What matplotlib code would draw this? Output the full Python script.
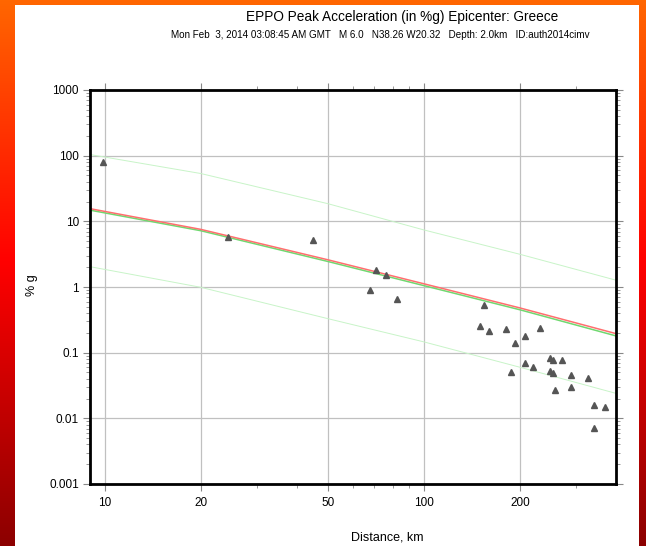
import numpy as np
import matplotlib
matplotlib.use('Agg')
import matplotlib.pyplot as plt
from matplotlib.colors import LinearSegmentedColormap
from matplotlib.patches import Rectangle
from matplotlib.ticker import LogLocator, FixedLocator, FixedFormatter, NullFormatter

plt.rcParams['font.family'] = ['Liberation Sans', 'DejaVu Sans']

# Estaciones: distancia (km) y aceleracion pico (%g)
dist_km = [9.86, 24.4, 45, 70.8, 76.4, 68, 82.6, 154, 150, 160, 180.7, 207, 193.4,
           232, 208, 219.7, 188, 249, 254.7, 270.5, 249, 254.7, 289, 326, 289, 257,
           342, 369.5, 341]
pga = [80, 5.8, 5.2, 1.79, 1.55, 0.906, 0.66, 0.54, 0.258, 0.214, 0.232, 0.18, 0.139,
       0.238, 0.0687, 0.0605, 0.05, 0.0819, 0.078, 0.076, 0.052, 0.0483, 0.0456, 0.041,
       0.0303, 0.027, 0.0159, 0.0148, 0.0072]

# Curvas de atenuacion
curva_dist = [9, 20, 50, 100, 200, 400]
curva_roja = [15.6, 7.55, 2.6, 1.12, 0.48, 0.195]
curva_verde = [14.8, 7.2, 2.45, 1.05, 0.45, 0.18]
curva_sup = [104, 53.5, 18.6, 7.4, 3.15, 1.27]
curva_inf = [2.04, 0.99, 0.33, 0.146, 0.06, 0.024]

xticks = [10, 20, 50, 100, 200]
yticks = [0.001, 0.01, 0.1, 1, 10, 100, 1000]
ytick_labels = ['0.001', '0.01', '0.1', '1', '10', '100', '1000']

fig = plt.figure(figsize=(6.46, 5.46), dpi=100)

# Fondo degradado
bg = fig.add_axes([0, 0, 1, 1], zorder=-10)
cmap = LinearSegmentedColormap.from_list(
    'fondo', [(0, '#ff6600'), (0.48, '#ff0000'), (1, '#8c0000')])
grad = np.linspace(0, 1, 256).reshape(-1, 1)
bg.imshow(grad, aspect='auto', cmap=cmap, extent=[0, 1, 0, 1])
bg.set_axis_off()
fig.patches.append(Rectangle((15 / 646, 0), 624 / 646, 541 / 546,
                             transform=fig.transFigure, facecolor='white',
                             edgecolor='none', zorder=-5))

ax = fig.add_axes([90 / 646, 1 - 484 / 546, 526 / 646, 394 / 546])
ax.set_xscale('log')
ax.set_yscale('log')
ax.set_xlim(9, 400)
ax.set_ylim(0.001, 1000)

ax.plot(curva_dist, curva_sup, color='#c8f4c8', lw=0.7)
ax.plot(curva_dist, curva_inf, color='#c8f4c8', lw=0.7)
ax.plot(curva_dist, curva_verde, color='#70d870', lw=1.1)
ax.plot(curva_dist, curva_roja, color='#ff6f6f', lw=1.1)
ax.plot(dist_km, pga, linestyle='none', marker='^', markersize=4,
        color='#555555', zorder=5)

ax.xaxis.set_major_locator(FixedLocator(xticks))
ax.xaxis.set_major_formatter(FixedFormatter([str(t) for t in xticks]))
ax.xaxis.set_minor_locator(FixedLocator([30, 40, 60, 70, 80, 90, 300]))
ax.xaxis.set_minor_formatter(NullFormatter())
ax.yaxis.set_major_locator(FixedLocator(yticks))
ax.yaxis.set_major_formatter(FixedFormatter(ytick_labels))
ax.yaxis.set_minor_locator(LogLocator(base=10, subs=np.arange(2, 10), numticks=20))
ax.yaxis.set_minor_formatter(NullFormatter())

ax.grid(True, which='major', color='#c0c0c0', lw=0.9)
ax.tick_params(which='both', direction='out', top=True, right=True,
               labelsize=8.5, color='#888888')
ax.tick_params(which='major', length=5, width=0.8)
ax.tick_params(axis='x', which='major', pad=4)
ax.tick_params(axis='y', which='major', pad=3)
ax.tick_params(which='minor', length=3, width=0.6)
for s in ax.spines.values():
    s.set_linewidth(2)

ax.set_xlabel('Distance, km', fontsize=9)
ax.set_ylabel('% g', fontsize=9)
ax.xaxis.set_label_coords((387 - 90) / 526, (484 - 537) / 394)
ax.yaxis.set_label_coords((32 - 90) / 526, (484 - 285) / 394)
ax.xaxis.label.set_va('center')
ax.yaxis.label.set_va('center')

fig.text(402 / 646, 1 - 17 / 546, 'EPPO Peak Acceleration (in %g) Epicenter: Greece',
         ha='center', va='center', fontsize=9.8)
fig.text(380 / 646, 1 - 35 / 546,
         'Mon Feb  3, 2014 03:08:45 AM GMT   M 6.0   N38.26 W20.32   Depth: 2.0km   ID:auth2014cimv',
         ha='center', va='center', fontsize=7.1)

fig.savefig('out.png', dpi=100)
